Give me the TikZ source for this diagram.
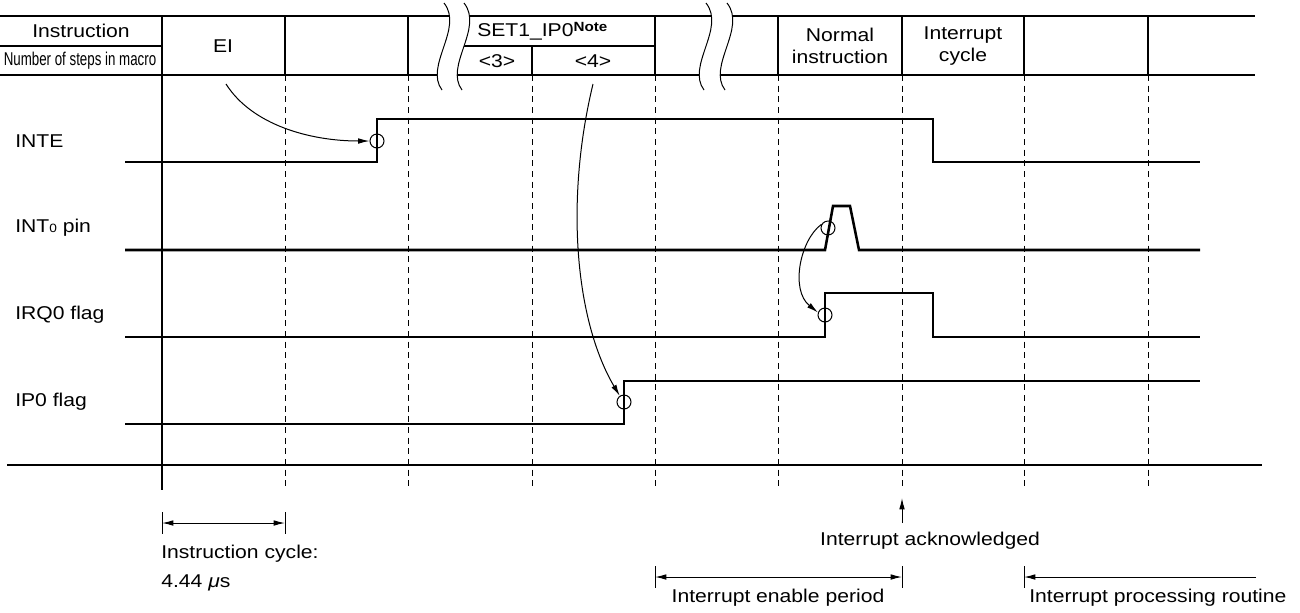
\documentclass[tikz,border=0pt]{standalone}
\usepackage{graphicx}
\usepackage{fontspec}
\setmainfont[FakeStretch=1.14]{Liberation Sans}
\usetikzlibrary{arrows.meta}
\newcommand\fsz{\fontsize{13.9pt}{16pt}\selectfont}
\begin{document}
\begin{tikzpicture}[x=0.75pt,y=-0.75pt,
  tbl/.style={line width=0.9pt},
  sig/.style={line width=1.9pt, line join=miter},
  gridline/.style={line width=0.75pt, dash pattern=on 4.5pt off 3.5pt},
  conn/.style={line width=0.75pt, -{Latex[length=8.5pt,width=4.2pt]}},
  dimarrow/.style={line width=0.75pt, {Latex[length=8.5pt,width=4.2pt]}-{Latex[length=8.5pt,width=4.2pt]}},
  ring/.style={circle, draw, line width=0.75pt, minimum size=10.5pt, inner sep=0pt},
  txt/.style={inner sep=0pt, font=\fsz},
  brk/.style={line width=0.75pt}]
\useasboundingbox (0,0) rectangle (1300,612);

% ---------- table ----------
\draw[tbl] (0,16) -- (1255,16);
\draw[tbl] (0,75) -- (1255,75);
\draw[tbl] (0,46) -- (162,46);
\draw[tbl] (450,46) -- (655,46);
\foreach \x in {285,408,655,778,902,1024,1148} \draw[tbl] (\x,16) -- (\x,75);
\draw[tbl] (532,46) -- (532,75);
\draw[tbl] (162,16) -- (162,490);

% break marks
\fill[white] (444,3) .. controls (464,28) and (424,66) .. (442,90) -- (462,90) .. controls (444,66) and (484,28) .. (464,3) -- cycle;
\draw[brk] (444,3) .. controls (464,28) and (424,66) .. (442,90);
\draw[brk] (464,3) .. controls (484,28) and (444,66) .. (462,90);
\fill[white] (706,3) .. controls (726,28) and (686,66) .. (704,90) -- (725,90) .. controls (707,66) and (747,28) .. (727,3) -- cycle;
\draw[brk] (706,3) .. controls (726,28) and (686,66) .. (704,90);
\draw[brk] (727,3) .. controls (747,28) and (707,66) .. (725,90);

% table texts
\node[txt] (instr) at (81,31) {Instruction};
\node[txt] (steps) at (80,61) {\scalebox{0.63}[1]{Number of steps in macro}};
\node[txt] (ei) at (223,46) {EI};
\node[txt, anchor=west] (set) at (477,31) {SET1\_IP0\raisebox{0.5ex}{\fontsize{10pt}{11pt}\selectfont\bfseries Note}};
\node[txt] (s3) at (497,61) {<3>};
\node[txt] (s4) at (593,61) {<4>};
\node[txt, align=center] (norm) at (840,46) {Normal\\[1pt]instruction};
\node[txt, align=center] (icyc) at (963,46) {Interrupt\\[1pt]cycle};

% ---------- grid ----------
\foreach \x in {285,408,532,655,778,902,1024,1148} \draw[gridline] (\x,75) -- (\x,490);
\draw[tbl] (7,465) -- (1262,465);

% ---------- signal labels ----------
\node[txt, anchor=west] (linte) at (15,141) {INTE};
\node[txt, anchor=west] (lint0) at (15,228) {INT{\fontsize{9pt}{10pt}\selectfont 0} pin};
\node[txt, anchor=west] (lirq) at (15,315) {IRQ0 flag};
\node[txt, anchor=west] (lip) at (15,402) {IP0 flag};

% ---------- waveforms ----------
\draw[sig] (125,162) -- (377,162) -- (377,119) -- (933,119) -- (933,162) -- (1200,162);
\draw[sig] (125,250) -- (825,250) -- (833,206) -- (850,206) -- (859,250) -- (1200,250);
\draw[sig] (125,337) -- (825,337) -- (825,293) -- (933,293) -- (933,337) -- (1200,337);
\draw[sig] (125,424) -- (624,424) -- (624,381) -- (1200,381);

% ---------- event circles and arrows ----------
\node[ring] (c1) at (377,141) {};
\node[ring] (c2) at (828,228) {};
\node[ring] (c3) at (825,315) {};
\node[ring] (c4) at (624,402) {};

\coordinate (eistart) at (226,84);
\coordinate (s4start) at (593,84);
\draw[conn] (eistart) .. controls (252,125) and (310,141) .. (c1.west);
\draw[conn] (c2.150) .. controls (800,240) and (790,290) .. (c3.160);
\draw[conn] (s4start) .. controls (565,200) and (575,320) .. (c4.125);

% ---------- bottom annotations ----------
\coordinate (ic1) at (162,523);
\coordinate (ic2) at (285,523);
\draw[brk] (162,512) -- (162,534);
\draw[brk] (285,512) -- (285,534);
\draw[dimarrow] (ic1) -- (ic2);
\node[txt, anchor=west] (ictext) at (161,554) {Instruction cycle:};
\node[txt, anchor=west] (ictime) at (161,583) {4.44 \textit{μ}s};

\coordinate (ackfoot) at (902,523);
\coordinate (acktip) at (902,498);
\draw[conn] (ackfoot) -- (acktip);
\node[txt] (acktext) at (930,541) {Interrupt acknowledged};

\coordinate (en1) at (655,577);
\coordinate (en2) at (902,577);
\draw[brk] (655,566) -- (655,588);
\draw[brk] (902,566) -- (902,588);
\draw[dimarrow] (en1) -- (en2);
\node[txt] (entext) at (778,598) {Interrupt enable period};

\coordinate (pr1) at (1024,577);
\coordinate (pr2) at (1256,577);
\draw[brk] (1024,566) -- (1024,588);
\draw[conn] (pr2) -- (pr1);
\node[txt, anchor=west] (prtext) at (1029,598) {Interrupt processing routine};
\end{tikzpicture}
\end{document}
